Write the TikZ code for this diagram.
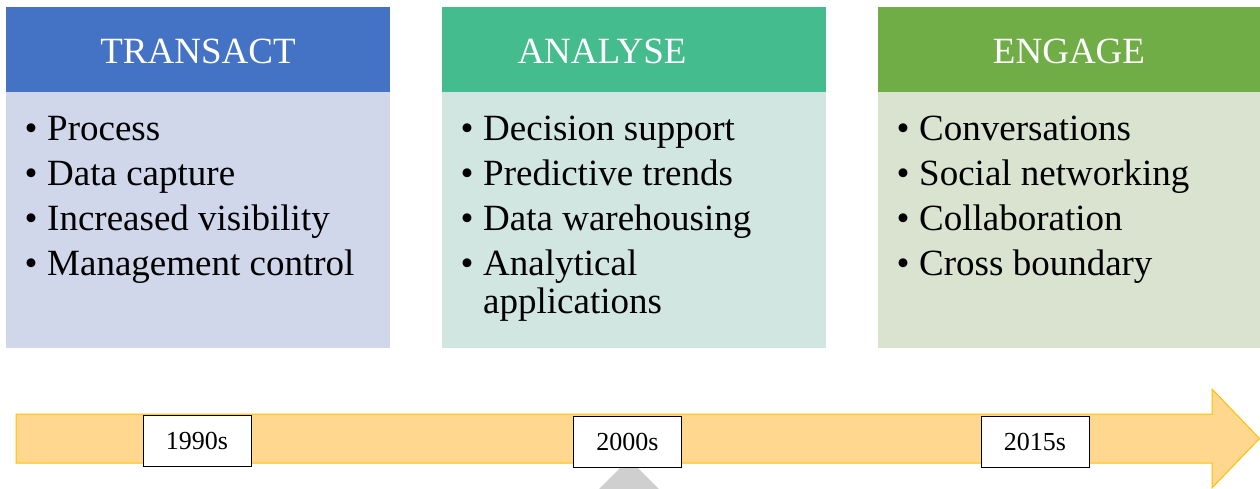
\documentclass[tikz,border=0pt]{standalone}
\usepackage{fontspec}
\setmainfont{Liberation Serif}
\begin{document}
\begin{tikzpicture}[x=1pt,y=-1pt,
  hdrbox/.style={draw=none,rectangle,inner sep=0pt,anchor=north west,minimum width=384pt,minimum height=85pt},
  bodybox/.style={draw=none,rectangle,inner sep=0pt,anchor=north west,minimum width=384pt,minimum height=256pt},
  hdrtext/.style={text=white,inner sep=0pt,anchor=base,font=\fontsize{37}{44}\selectfont},
  bulletmark/.style={inner sep=0pt,anchor=base,font=\fontsize{37}{45}\selectfont},
  itemtext/.style={inner sep=0pt,anchor=base west,font=\fontsize{37}{45}\selectfont},
  datebox/.style={draw=black,line width=1pt,fill=white,rectangle,inner sep=0pt,minimum width=108pt,minimum height=51pt,font=\fontsize{26}{30}\selectfont}
]
\definecolor{hdrA}{HTML}{4472C4}
\definecolor{bodyA}{HTML}{D0D7EB}
\definecolor{hdrB}{HTML}{45BC8E}
\definecolor{bodyB}{HTML}{D1E6E1}
\definecolor{hdrC}{HTML}{70AD47}
\definecolor{bodyC}{HTML}{D9E3D0}
\definecolor{arrowfill}{HTML}{FFD78F}
\definecolor{arrowline}{HTML}{FFC000}
\definecolor{marker}{HTML}{CFCFCF}
\useasboundingbox (0,0) rectangle (1260,488);

% column boxes
\node[bodybox,fill=bodyA] (b1) at (6,92) {};
\node[hdrbox,fill=hdrA] (h1) at (6,7) {};
\node[bodybox,fill=bodyB] (b2) at (442,92) {};
\node[hdrbox,fill=hdrB] (h2) at (442,7) {};
\node[bodybox,fill=bodyC,minimum width=382pt] (b3) at (878,92) {};
\node[hdrbox,fill=hdrC,minimum width=382pt] (h3) at (878,7) {};

% headings
\node[hdrtext] (t1) at (198,63) {TRANSACT};
\node[hdrtext] (t2) at (602,63) {ANALYSE};
\node[hdrtext] (t3) at (1069,63) {ENGAGE};

% first column items
\node[bulletmark] (p1) at (31,140) {•};
\node[itemtext] (i1) at (47,140) {Process};
\node[bulletmark] (p2) at (31,185) {•};
\node[itemtext] (i2) at (47,185) {Data capture};
\node[bulletmark] (p3) at (31,230) {•};
\node[itemtext] (i3) at (47,230) {Increased visibility};
\node[bulletmark] (p4) at (31,275) {•};
\node[itemtext] (i4) at (47,275) {Management control};

% second column items
\node[bulletmark] (q1) at (467,140) {•};
\node[itemtext] (j1) at (483,140) {Decision support};
\node[bulletmark] (q2) at (467,185) {•};
\node[itemtext] (j2) at (483,185) {Predictive trends};
\node[bulletmark] (q3) at (467,230) {•};
\node[itemtext] (j3) at (483,230) {Data warehousing};
\node[bulletmark] (q4) at (467,275) {•};
\node[itemtext] (j4) at (483,275) {Analytical};
\node[itemtext] (j5) at (483,313) {applications};

% third column items
\node[bulletmark] (r1) at (903,140) {•};
\node[itemtext] (k1) at (919,140) {Conversations};
\node[bulletmark] (r2) at (903,185) {•};
\node[itemtext] (k2) at (919,185) {Social networking};
\node[bulletmark] (r3) at (903,230) {•};
\node[itemtext] (k3) at (919,230) {Collaboration};
\node[bulletmark] (r4) at (903,275) {•};
\node[itemtext] (k4) at (919,275) {Cross boundary};

% timeline arrow
\draw[fill=arrowfill,draw=arrowline,line width=1pt,line join=miter]
  (16,414) -- (1212,414) -- (1212,389) -- (1259.5,438.5) -- (1212,488) -- (1212,463) -- (16,463) -- cycle;

% small grey marker below the middle date
\fill[marker] (629,459) -- (662,492) -- (596,492) -- cycle;

% dates
\node[datebox] (d1) at (197,440.5) {1990s};
\node[datebox] (d2) at (627.5,441.5) {2000s};
\node[datebox] (d3) at (1035,441.5) {2015s};
\end{tikzpicture}
\end{document}
